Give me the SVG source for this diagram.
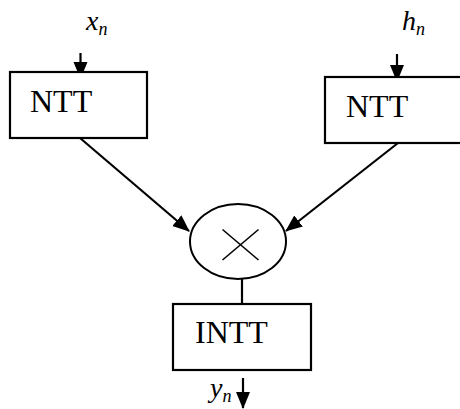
<svg xmlns="http://www.w3.org/2000/svg" width="460" height="409" viewBox="0 0 460 409">
  <style>
    .box { fill: #fff; stroke: #000; stroke-width: 2.2; }
    .lbl { font-family: "Liberation Serif", "Times New Roman", serif; font-size: 32px; fill: #000; }
    .var { font-family: "Liberation Serif", "Times New Roman", serif; font-style: italic; font-size: 28px; fill: #000; }
    .sub { font-size: 18px; }
    .wire { stroke: #000; stroke-width: 2.2; fill: none; }
    .arrow { marker-end: url(#head); }
  </style>
  <defs>
    <marker id="head" markerUnits="userSpaceOnUse" markerWidth="18" markerHeight="15" refX="16" refY="7" orient="auto">
      <path d="M0,0 L17,7 L0,14 z" fill="#000"/>
    </marker>
  </defs>

  <rect width="460" height="409" fill="#fff"/>

  <!-- input / output signal labels -->
  <g id="label-x">
    <text class="var" x="86" y="30">x<tspan class="sub" dy="5">n</tspan></text>
  </g>
  <g id="label-h">
    <text class="var" x="402" y="30">h<tspan class="sub" dy="5">n</tspan></text>
  </g>
  <g id="label-y">
    <text class="var" x="210" y="397">y<tspan class="sub" dy="5">n</tspan></text>
  </g>

  <!-- connectors -->
  <g id="connectors">
    <line class="wire arrow" x1="80.5" y1="53" x2="80.5" y2="78"/>
    <line class="wire arrow" x1="397" y1="54" x2="397" y2="81"/>
    <line class="wire arrow" x1="80" y1="138" x2="189" y2="231"/>
    <line class="wire arrow" x1="398" y1="143" x2="286" y2="231"/>
    <line class="wire" x1="242" y1="279" x2="242" y2="304"/>
    <line class="wire arrow" x1="243" y1="378" x2="243" y2="408"/>
  </g>

  <g id="ntt-x">
    <rect class="box" x="10" y="72" width="137" height="66"/>
    <text class="lbl" x="30" y="112">NTT</text>
  </g>

  <g id="ntt-h">
    <rect class="box" x="325" y="77" width="140" height="66"/>
    <text class="lbl" x="346" y="117">NTT</text>
  </g>

  <g id="multiplier">
    <ellipse cx="238" cy="241.5" rx="48" ry="37.5" fill="#fff" stroke="#000" stroke-width="2"/>
    <line x1="222.5" y1="229.5" x2="258.5" y2="260" stroke="#000" stroke-width="1.6"/>
    <line x1="258.5" y1="229.5" x2="222.5" y2="260" stroke="#000" stroke-width="1.6"/>
  </g>

  <g id="intt">
    <rect class="box" x="173" y="304" width="138" height="66"/>
    <text class="lbl" x="195" y="343">INTT</text>
  </g>
</svg>
